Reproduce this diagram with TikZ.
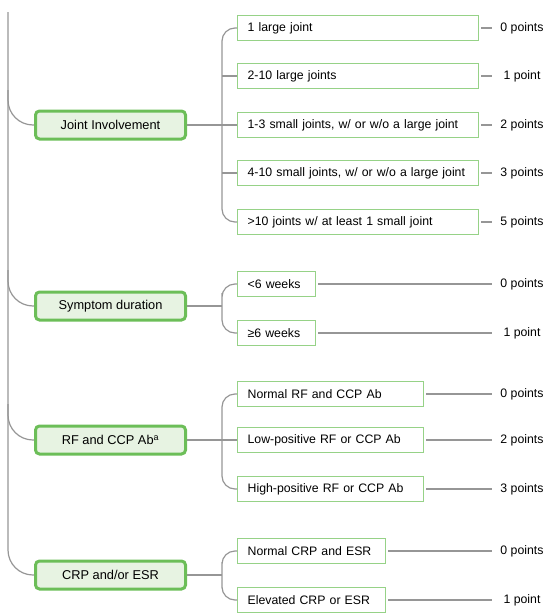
\documentclass[tikz,border=0pt]{standalone}
\usepackage{fontspec}
\setmainfont{Liberation Sans}
\definecolor{catborder}{RGB}{108,190,88}
\definecolor{catfill}{RGB}{231,243,226}
\definecolor{subborder}{RGB}{150,210,135}
\definecolor{conn}{RGB}{150,150,150}
\tikzset{
  cat/.style={draw=catborder, line width=3pt, fill=catfill, rounded corners=4pt,
    minimum width=150pt, minimum height=28pt, inner sep=0pt, anchor=west},
  subbox/.style={draw=subborder, line width=1.3pt, fill=white, anchor=west,
    minimum height=25pt, inner xsep=10pt, inner ysep=0pt, text width=#1, align=left},
  pts/.style={minimum width=56pt, inner sep=0pt, anchor=center},
  cn/.style={draw=conn, line width=1.2pt},
  rc/.style={cn, rounded corners=13pt},
  trunk/.style={cn, rounded corners=25pt},
}
\begin{document}
\begin{tikzpicture}[x=1pt, y=-1pt, font=\fontsize{12.3}{15}\selectfont]
\useasboundingbox (0,0) rectangle (549,613);

% categories
\node[cat, font=\fontsize{12.8}{15}\selectfont] (joint) at (34,125) {Joint Involvement};
\node[cat, font=\fontsize{12.8}{15}\selectfont] (sym) at (34,306) {Symptom duration};
\node[cat, font=\fontsize{12.8}{15}\selectfont] (rf) at (34,440) {RF and CCP Ab\textsuperscript{a}};
\node[cat, font=\fontsize{12.8}{15}\selectfont] (crp) at (34,575) {CRP and/or ESR};

% joint sub-boxes
\node[subbox=221pt] (j1) at (237,28) {1 large joint};
\node[subbox=221pt] (j2) at (237,76) {2-10 large joints};
\node[subbox=221pt] (j3) at (237,125) {\mbox{1-3 small joints, w/ or w/o a large joint}};
\node[subbox=221pt] (j4) at (237,173) {\mbox{4-10 small joints, w/ or w/o a large joint}};
\node[subbox=221pt] (j5) at (237,222) {\mbox{>10 joints w/ at least 1 small joint}};

% symptom sub-boxes
\node[subbox=58pt] (s1) at (237,284) {\mbox{<6 weeks}};
\node[subbox=58pt] (s2) at (237,333) {\mbox{≥6 weeks}};

% RF sub-boxes
\node[subbox=166pt] (r1) at (237,394) {\mbox{Normal RF and CCP Ab}};
\node[subbox=166pt] (r2) at (237,440) {\mbox{Low-positive RF or CCP Ab}};
\node[subbox=166pt] (r3) at (237,489) {\mbox{High-positive RF or CCP Ab}};

% CRP sub-boxes
\node[subbox=128pt] (c1) at (237,551) {\mbox{Normal CRP and ESR}};
\node[subbox=128pt] (c2) at (237,600) {\mbox{Elevated CRP or ESR}};

% points
\node[pts] (pj1) at (522,28) {0 points};
\node[pts] (pj2) at (522,76) {1 point};
\node[pts] (pj3) at (522,125) {2 points};
\node[pts] (pj4) at (522,173) {3 points};
\node[pts] (pj5) at (522,222) {5 points};
\node[pts] (ps1) at (522,284) {0 points};
\node[pts] (ps2) at (522,333) {1 point};
\node[pts] (pr1) at (522,394) {0 points};
\node[pts] (pr2) at (522,440) {2 points};
\node[pts] (pr3) at (522,489) {3 points};
\node[pts] (pc1) at (522,551) {0 points};
\node[pts] (pc2) at (522,600) {1 point};

% trunk
\coordinate (top) at (8,12);
\coordinate (tj) at (8,90);
\coordinate (ts) at (8,270);
\coordinate (tr) at (8,404);
\draw[trunk] (top) |- (crp.west);
\draw[trunk] (tj) |- (joint.west);
\draw[trunk] (ts) |- (sym.west);
\draw[trunk] (tr) |- (rf.west);

% spines
\coordinate (jsp) at (222,125);
\coordinate (ssp) at (222,306);
\coordinate (rsp) at (222,440);
\coordinate (csp) at (222,575);

\draw[rc] (j1.west) -| (jsp) |- (j5.west);
\draw[cn] (joint.east) -- (j3.west);
\draw[cn] (jsp |- j2.west) -- (j2.west);
\draw[cn] (jsp |- j4.west) -- (j4.west);

\draw[rc] (s1.west) -| (ssp) |- (s2.west);
\draw[cn] (sym.east) -- (ssp);

\draw[rc] (r1.west) -| (rsp) |- (r3.west);
\draw[cn] (rf.east) -- (r2.west);

\draw[rc] (c1.west) -| (csp) |- (c2.west);
\draw[cn] (crp.east) -- (csp);

% points connectors
\foreach \b/\p in {j1/pj1,j2/pj2,j3/pj3,j4/pj4,j5/pj5,s1/ps1,s2/ps2,r1/pr1,r2/pr2,r3/pr3,c1/pc1,c2/pc2}
  \draw[cn] ([xshift=2pt]\b.east) -- ([xshift=-2pt]\p.west);
\end{tikzpicture}
\end{document}
